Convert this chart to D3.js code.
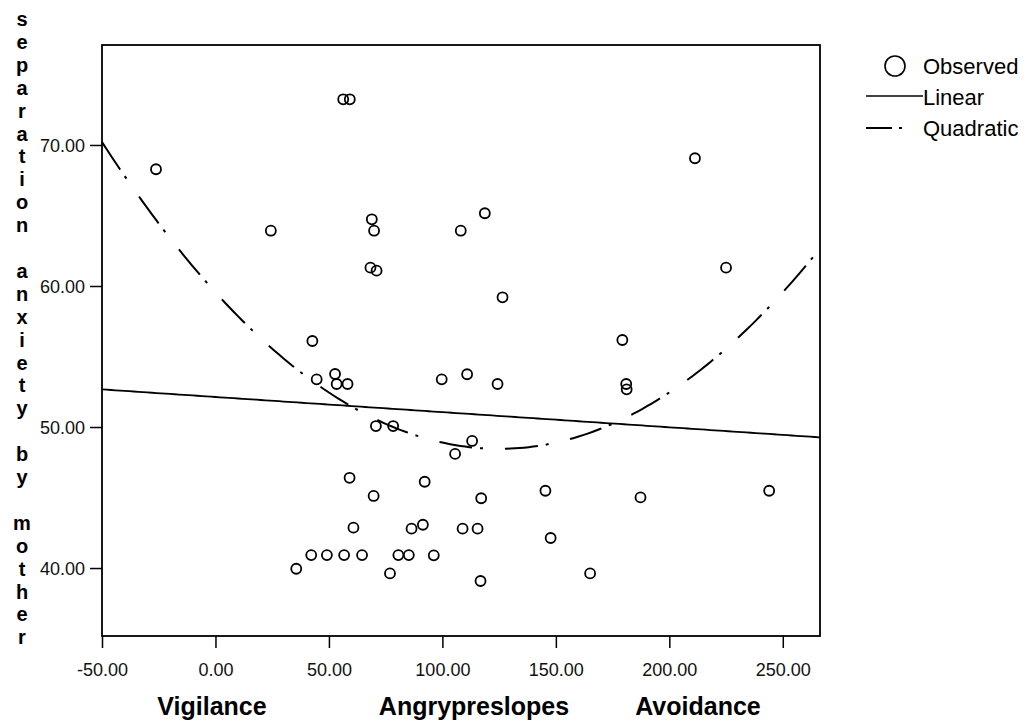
<!DOCTYPE html>
<html>
<head>
<meta charset="utf-8">
<script src="https://cdn.jsdelivr.net/npm/d3@7/dist/d3.min.js"></script>
<style>
  body { margin: 0; background: #fff; }
  svg { display: block; font-family: "Liberation Sans", Arial, sans-serif; }
</style>
</head>
<body>
<div id="chart"></div>
<script>
const slopes = [
    56.3, 59.2, -26.2, 24.4, 68.9, 69.9, 68.3, 71.0, 108.1, 118.7,
    126.5, 211.3, 225.0, 42.7, 179.3, 44.6, 52.7, 53.4, 58.2, 99.7,
    110.9, 124.3, 181.0, 181.2, 70.7, 78.3, 113.1, 105.6, 59.1, 92.2,
    69.7, 117.1, 145.4, 187.3, 244.0, 60.8, 86.4, 91.4, 108.9, 115.5,
    147.7, 42.2, 49.1, 56.7, 64.6, 80.6, 85.2, 96.2, 35.6, 76.9,
    116.8, 165.1
];
const anxiety = [
    73.24, 73.24, 68.28, 63.92, 64.73, 63.92, 61.30, 61.09, 63.92, 65.16,
    59.20, 69.06, 61.30, 56.10, 56.17, 53.38, 53.76, 53.05, 53.05, 53.38,
    53.74, 53.05, 53.05, 52.67, 50.07, 50.07, 49.01, 48.09, 46.40, 46.12,
    45.11, 44.95, 45.48, 45.01, 45.48, 42.86, 42.79, 43.07, 42.79, 42.79,
    42.13, 40.92, 40.92, 40.92, 40.92, 40.92, 40.92, 40.90, 39.95, 39.62,
    39.08, 39.62
];

// Fitted models as drawn (intercept, slope[, quadratic term])
const linearCoef = [52.13, -0.01075];
const quadCoef = [59.55, -0.1776, 0.0007105];

const xDomain = [-50, 266.4];
const yDomain = [35.18, 77.09];
const xTicks = [-50, 0, 50, 100, 150, 200, 250];
const yTicks = [40, 50, 60, 70];

const legendLabels = ["Observed", "Linear", "Quadratic"];
const yTitle = "separation anxiety by mother";
const xTitleWords = ["Vigilance", "Angrypreslopes", "Avoidance"];
const xTitleCenters = [212, 474, 698];

// Frame of the plot area in page pixels
const frame = {left: 102, right: 820, top: 45, bottom: 636};
const quadDash = "33,8,3,22";

// plain hyphen for negatives, like the original output
const fmt = d3.formatLocale({decimal: ".", thousands: ",", grouping: [3], currency: ["", ""], minus: "-"}).format(".2f");

const svg = d3.select("#chart")
    .append("svg")
    .attr("width", 1026)
    .attr("height", 721);

const xScale = d3.scaleLinear().domain(xDomain).range([frame.left, frame.right]);
const yScale = d3.scaleLinear().domain(yDomain).range([frame.bottom, frame.top]);

// Plot frame
svg.append("rect")
    .attr("x", frame.left)
    .attr("y", frame.top)
    .attr("width", frame.right - frame.left)
    .attr("height", frame.bottom - frame.top)
    .attr("fill", "none")
    .attr("stroke", "#000")
    .attr("stroke-width", 1.8);

// Axes
const xAxis = svg.append("g")
    .attr("transform", `translate(0,${frame.bottom})`)
    .call(d3.axisBottom(xScale).tickValues(xTicks).tickFormat(fmt).tickSize(12).tickPadding(15));

const yAxis = svg.append("g")
    .attr("transform", `translate(${frame.left},0)`)
    .call(d3.axisLeft(yScale).tickValues(yTicks).tickFormat(fmt).tickSize(12).tickPadding(5));

[xAxis, yAxis].forEach(ax => {
    ax.select(".domain").remove();
    ax.selectAll(".tick line").attr("stroke", "#000").attr("stroke-width", 1.5);
    ax.selectAll(".tick text")
        .attr("fill", "#111")
        .style("font-size", "18px");
});
yAxis.selectAll(".tick text").attr("dy", "0.36em");

// Fit lines
svg.append("clipPath").attr("id", "plot-clip")
    .append("rect")
    .attr("x", frame.left)
    .attr("y", frame.top)
    .attr("width", frame.right - frame.left)
    .attr("height", frame.bottom - frame.top);

const xs = d3.range(xDomain[0], xDomain[1], 2).concat([xDomain[1]]);

const line = d3.line()
    .x(d => xScale(d[0]))
    .y(d => yScale(d[1]));

svg.append("path")
    .datum(xs.map(x => [x, linearCoef[0] + linearCoef[1] * x]))
    .attr("d", line)
    .attr("fill", "none")
    .attr("stroke", "#000")
    .attr("stroke-width", 1.8)
    .attr("clip-path", "url(#plot-clip)");

svg.append("path")
    .datum(xs.map(x => [x, quadCoef[0] + quadCoef[1] * x + quadCoef[2] * x * x]))
    .attr("d", line)
    .attr("fill", "none")
    .attr("stroke", "#000")
    .attr("stroke-width", 2)
    .attr("stroke-dasharray", quadDash)
    .attr("clip-path", "url(#plot-clip)");

// Observed points
svg.append("g")
    .selectAll("circle")
    .data(d3.zip(slopes, anxiety))
    .enter().append("circle")
    .attr("cx", d => xScale(d[0]))
    .attr("cy", d => yScale(d[1]))
    .attr("r", 5)
    .attr("fill", "none")
    .attr("stroke", "#000")
    .attr("stroke-width", 1.8);

// Y axis title, stacked one letter per row
const yTitleText = svg.append("text")
    .attr("text-anchor", "middle")
    .style("font-size", "20px")
    .style("font-weight", "bold")
    .attr("fill", "#000");

yTitleText.selectAll("tspan")
    .data(Array.from(yTitle))
    .enter().append("tspan")
    .attr("x", 22)
    .attr("y", (d, i) => 26 + i * 22.9)
    .text(d => d);

// X axis title
svg.selectAll(".x-title")
    .data(xTitleWords)
    .enter().append("text")
    .attr("class", "x-title")
    .attr("x", (d, i) => xTitleCenters[i])
    .attr("y", 715)
    .attr("text-anchor", "middle")
    .style("font-size", "25px")
    .style("font-weight", "bold")
    .attr("fill", "#000")
    .text(d => d);

// Legend
const legend = svg.append("g").attr("transform", "translate(866, 0)");
const legendRows = [74, 105, 136];

legend.append("circle")
    .attr("cx", 29)
    .attr("cy", legendRows[0] - 8)
    .attr("r", 10)
    .attr("fill", "none")
    .attr("stroke", "#000")
    .attr("stroke-width", 1.6);

legend.append("line")
    .attr("x1", 0).attr("x2", 57)
    .attr("y1", legendRows[1] - 9).attr("y2", legendRows[1] - 9)
    .attr("stroke", "#000")
    .attr("stroke-width", 1.6);

legend.append("line")
    .attr("x1", 0).attr("x2", 37)
    .attr("y1", legendRows[2] - 8).attr("y2", legendRows[2] - 8)
    .attr("stroke", "#000")
    .attr("stroke-width", 2)
    .attr("stroke-dasharray", "26,7,3,40");

legend.selectAll(".legend-text")
    .data(legendLabels)
    .enter().append("text")
    .attr("class", "legend-text")
    .attr("x", 57)
    .attr("y", (d, i) => legendRows[i])
    .style("font-size", "22px")
    .attr("fill", "#000")
    .text(d => d);
</script>
</body>
</html>
